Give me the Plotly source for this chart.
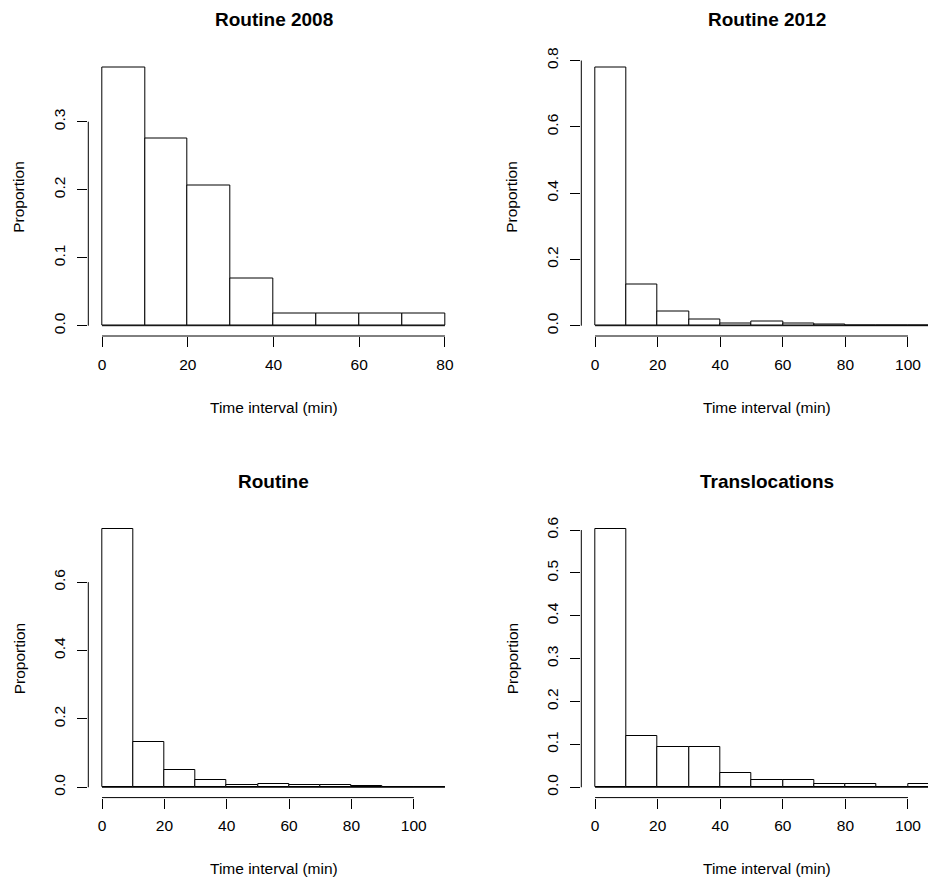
import plotly.graph_objects as go

# Histogram bins: 10-minute intervals starting at 0
bin_width = 10

# Proportions per bin for each group
routine_2008 = [0.3793, 0.2759, 0.2069, 0.0690, 0.0172, 0.0172, 0.0172, 0.0172]
routine_2012 = [0.778, 0.124, 0.042, 0.019, 0.007, 0.012, 0.008, 0.003, 0.0, 0.0, 0.0]
routine_all = [0.7545, 0.131, 0.0508, 0.0215, 0.007, 0.0106, 0.006, 0.006, 0.003, 0.002, 0.0]
translocations = [0.6017, 0.1186, 0.0932, 0.0932, 0.0339, 0.0169, 0.0169, 0.0085, 0.0085, 0.0, 0.0085]

titles = ["Routine 2008", "Routine 2012", "Routine", "Translocations"]
x_ticks = [[0, 20, 40, 60, 80], [0, 20, 40, 60, 80, 100], [0, 20, 40, 60, 80, 100], [0, 20, 40, 60, 80, 100]]
y_ticks = [[0.0, 0.1, 0.2, 0.3], [0.0, 0.2, 0.4, 0.6, 0.8], [0.0, 0.2, 0.4, 0.6],
           [0.0, 0.1, 0.2, 0.3, 0.4, 0.5, 0.6]]
series = [routine_2008, routine_2012, routine_all, translocations]

W, H = 928, 879
FONT = "Liberation Sans, Arial, sans-serif"

# panel geometry in pixels: (left, right, top, bottom)
panels = [
    (88.3, 458.7, 57.5, 336.0),
    (581.3, 928.0, 57.5, 336.0),
    (88.3, 458.7, 519.0, 797.6),
    (581.3, 928.0, 519.0, 797.6),
]
# x extent in data units for each panel (R-style 4% padding)
x_ranges = [(-3.2, 83.2), (-4.4, 106.4), (-4.4, 114.4), (-4.4, 106.4)]
title_cx = [273.5, 767.0, 273.5, 767.0]

fig = go.Figure()
shapes = []
annotations = []

for i, (vals, ttl, xt, yt) in enumerate(zip(series, titles, x_ticks, y_ticks)):
    n = i + 1
    xa = "x" if n == 1 else f"x{n}"
    ya = "y" if n == 1 else f"y{n}"
    centers = [bin_width * k + bin_width / 2 for k in range(len(vals))]
    fig.add_trace(go.Bar(
        x=centers, y=vals, width=bin_width,
        marker=dict(color="white", line=dict(color="black", width=1)),
        xaxis=xa, yaxis=ya, showlegend=False, hoverinfo="x+y",
    ))
    left, right, top, bottom = panels[i]
    ymax = max(vals)
    yr = [-0.04 * ymax, 1.04 * ymax]
    axis_common = dict(
        showgrid=False, zeroline=False, showline=False, automargin=False,
        ticks="outside", ticklen=10, tickwidth=1, tickcolor="black",
        tickfont=dict(family=FONT, size=15.5, color="black"),
    )
    fig.layout[f"xaxis{'' if n == 1 else n}"] = dict(
        domain=[left / W, right / W], anchor=ya, range=list(x_ranges[i]),
        tickvals=xt, ticktext=[str(v) for v in xt], ticklabelstandoff=4,
        **axis_common,
    )
    fig.layout[f"yaxis{'' if n == 1 else n}"] = dict(
        domain=[1 - bottom / H, 1 - top / H], anchor=xa, range=yr,
        tickvals=yt, ticktext=[f"{v:.1f}" for v in yt], tickangle=-90,
        ticklabelstandoff=6,
        **axis_common,
    )
    # R-style axis lines spanning only the first to last tick
    shapes.append(dict(type="line", xref=xa, yref=f"{ya} domain",
                       x0=xt[0], x1=xt[-1], y0=0, y1=0,
                       line=dict(color="black", width=1)))
    shapes.append(dict(type="line", xref=f"{xa} domain", yref=ya,
                       x0=0, x1=0, y0=yt[0], y1=yt[-1],
                       line=dict(color="black", width=1)))
    # baseline of the histogram across all bins
    shapes.append(dict(type="line", xref=xa, yref=ya,
                       x0=0, x1=bin_width * len(vals), y0=0, y1=0,
                       line=dict(color="black", width=1)))

    annotations.append(dict(text=f"<b>{ttl}</b>", xref="paper", yref="paper",
                            x=title_cx[i] / W, y=1 - (top - 37.5) / H,
                            xanchor="center", yanchor="middle", showarrow=False,
                            font=dict(family=FONT, size=19, color="black")))
    annotations.append(dict(text="Time interval (min)", xref="paper", yref="paper",
                            x=title_cx[i] / W, y=1 - (bottom + 71) / H,
                            xanchor="center", yanchor="middle", showarrow=False,
                            font=dict(family=FONT, size=15.5, color="black")))
    annotations.append(dict(text="Proportion", xref="paper", yref="paper",
                            x=(left - 69.3) / W, y=1 - ((top + bottom) / 2) / H,
                            xanchor="center", yanchor="middle", showarrow=False,
                            textangle=-90,
                            font=dict(family=FONT, size=15.5, color="black")))

fig.update_layout(
    width=W, height=H,
    margin=dict(l=0, r=0, t=0, b=0, autoexpand=False),
    paper_bgcolor="white", plot_bgcolor="white",
    bargap=0, shapes=shapes, annotations=annotations,
)

fig.write_html("out.html")
